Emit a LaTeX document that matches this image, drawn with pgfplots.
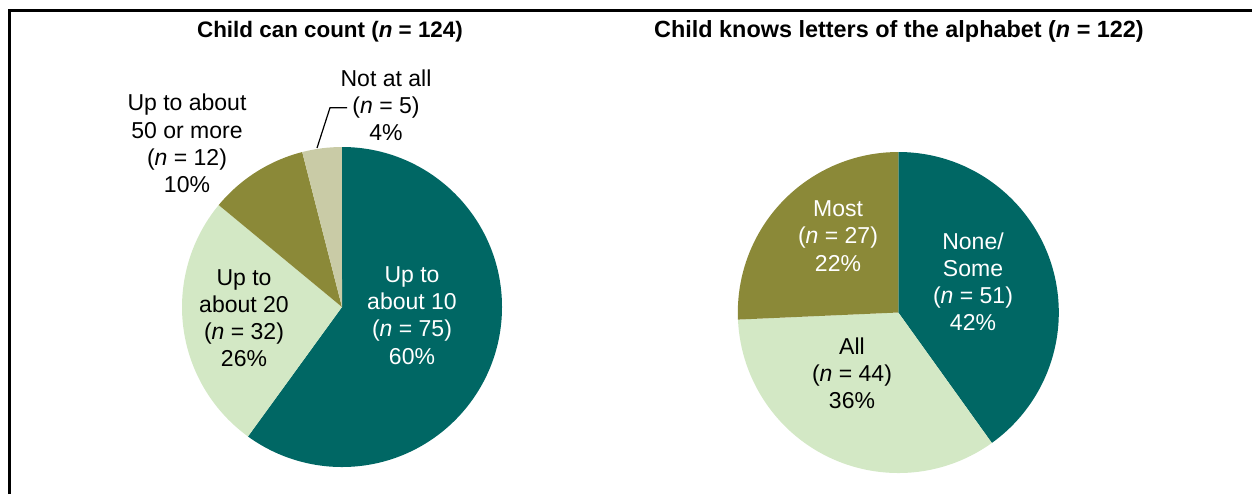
\documentclass[border=0pt]{standalone}
\usepackage{fontspec}
\setmainfont{Liberation Sans}
\usepackage{pgfplots}
\usepackage{pgfplotstable}
\pgfplotsset{compat=1.18}

\definecolor{cteal}{RGB}{0,103,100}
\definecolor{clight}{RGB}{211,232,197}
\definecolor{colive}{RGB}{139,137,56}
\definecolor{cbeige}{RGB}{201,203,166}

% shares as drawn in the pies (percent)
\pgfplotstableread{
n col
60 cteal
26 clight
10 colive
4 cbeige
}\pieA

\pgfplotstableread{
n col
40.1 cteal
34.2 clight
25.7 colive
}\pieB

\newcommand\drawpie[4]{%
  \pgfplotstablegetrowsof{#1}%
  \pgfmathtruncatemacro\pienrows{\pgfplotsretval-1}%
  \gdef\pietotal{0}%
  \foreach \i in {0,...,\pienrows}{%
    \pgfplotstablegetelem{\i}{n}\of{#1}%
    \pgfmathsetmacro\pietmp{\pietotal+\pgfplotsretval}%
    \xdef\pietotal{\pietmp}}%
  \gdef\piecum{90}%
  \pgfmathsetmacro\pierad{#4*0.5}%
  \foreach \i in {0,...,\pienrows}{%
    \pgfplotstablegetelem{\i}{n}\of{#1}\let\pieval\pgfplotsretval
    \pgfplotstablegetelem{\i}{col}\of{#1}\let\piecol\pgfplotsretval
    \pgfmathsetmacro\pieend{\piecum-360*(\pieval/\pietotal)}%
    \fill[fill=\piecol] (axis cs:#2,#3) -- ++(\piecum:\pierad pt)
      arc[start angle=\piecum, end angle=\pieend, radius=\pierad pt] -- cycle;
    \xdef\piecum{\pieend}}%
}

\begin{document}
\begin{tikzpicture}
\begin{axis}[
  width=626pt, height=247pt, scale only axis,
  xmin=0, xmax=1252, ymin=0, ymax=494, y dir=reverse,
  hide axis, clip=false]
\pgfplotsextra{\drawpie{\pieA}{342}{307}{160}}
\pgfplotsextra{\drawpie{\pieB}{898.3}{312.5}{160.5}}

% frame
\draw[line width=1.5pt] (axis cs:9.5,494) -- (axis cs:9.5,10.5) -- (axis cs:1252,10.5);
\coordinate (BL) at (axis cs:0,494);
\coordinate (TR) at (axis cs:1252,0);

% titles
\node[anchor=base, font=\bfseries\fontsize{11.2}{13}\selectfont] at (axis cs:330,37) {Child can count (\textit{n} = 124)};
\node[anchor=base, font=\bfseries\fontsize{11.7}{13}\selectfont] at (axis cs:899,37) {Child knows letters of the alphabet (\textit{n} = 122)};

% leader line
\draw[line width=0.6pt] (axis cs:347,107.7) -- (axis cs:330,107.7) -- (axis cs:317,148);

% labels
\tikzset{lab/.style={align=center, inner sep=0pt, font=\fontsize{11.5}{13.6}\selectfont}}
\node[lab, text=white] at (axis cs:412,315.5) {Up to\\about 10\\(\textit{n} = 75)\\60\%};
\node[lab] at (axis cs:244,318) {Up to\\about 20\\(\textit{n} = 32)\\26\%};
\node[lab] at (axis cs:187,143.5) {Up to about\\50 or more\\(\textit{n} = 12)\\10\%};
\node[lab] at (axis cs:386,105) {Not at all\\(\textit{n} = 5)\\4\%};
\node[lab, text=white] at (axis cs:973,281.7) {None/\\Some\\(\textit{n} = 51)\\42\%};
\node[lab, text=white] at (axis cs:838,236) {Most\\(\textit{n} = 27)\\22\%};
\node[lab] at (axis cs:852,373.5) {All\\(\textit{n} = 44)\\36\%};
\end{axis}
\pgfresetboundingbox
\useasboundingbox (BL) rectangle (TR);
\end{tikzpicture}
\end{document}
